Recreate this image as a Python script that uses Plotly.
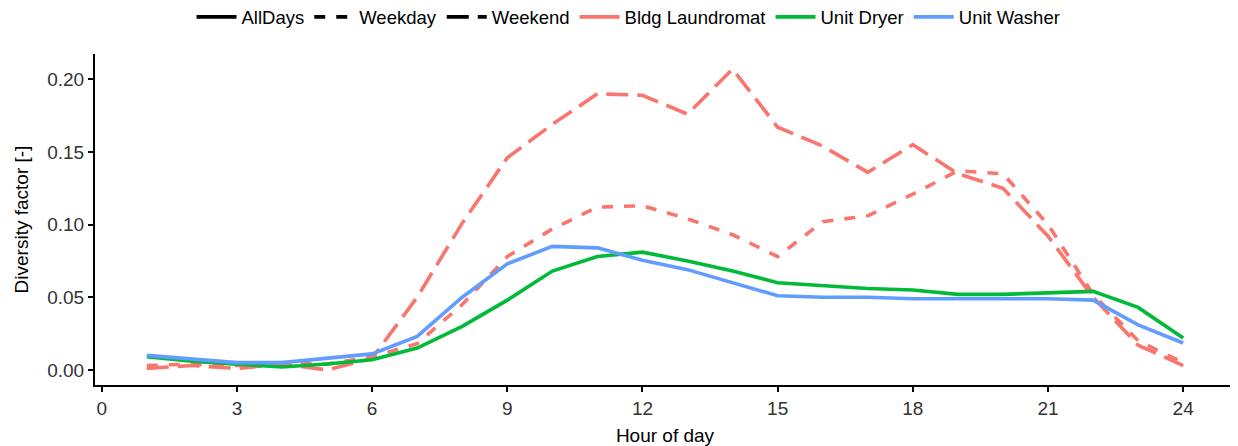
import plotly.graph_objects as go

hours = list(range(1, 25))

washer_all = [0.010, 0.0075, 0.005, 0.005, 0.008, 0.011, 0.023, 0.050, 0.073, 0.085, 0.084, 0.0755,
              0.069, 0.060, 0.051, 0.050, 0.050, 0.049, 0.049, 0.049, 0.049, 0.048, 0.031, 0.0185]
dryer_all = [0.009, 0.006, 0.004, 0.002, 0.004, 0.007, 0.015, 0.030, 0.048, 0.068, 0.078, 0.081,
             0.075, 0.068, 0.060, 0.058, 0.056, 0.055, 0.052, 0.052, 0.053, 0.054, 0.043, 0.022]
laund_weekday = [0.003, 0.004, 0.003, 0.005, 0.004, 0.009, 0.018, 0.045, 0.078, 0.097, 0.112, 0.113,
                 0.104, 0.093, 0.078, 0.102, 0.106, 0.121, 0.137, 0.135, 0.100, 0.052, 0.020, 0.005]
laund_weekend = [0.001, 0.003, 0.001, 0.004, 0.000, 0.008, 0.050, 0.101, 0.146, 0.169, 0.190, 0.189,
                 0.176, 0.207, 0.167, 0.154, 0.136, 0.155, 0.135, 0.125, 0.092, 0.050, 0.017, 0.003]

x_ticks = [0, 3, 6, 9, 12, 15, 18, 21, 24]
y_ticks = [0.00, 0.05, 0.10, 0.15, 0.20]
y_ticklabels = ["0.00", "0.05", "0.10", "0.15", "0.20"]

RED = "#F8766D"
GREEN = "#00BA38"
BLUE = "#619CFF"
LW = 3.6
DASH_WEEKDAY = "11px,11px"
DASH_WEEKEND = "22px,9px"

fig = go.Figure()

# legend keys (linetype)
for name, dash in [("AllDays", "solid"), ("Weekday", DASH_WEEKDAY), ("Weekend", DASH_WEEKEND)]:
    fig.add_trace(go.Scatter(x=[None], y=[None], mode="lines", name=name,
                             line=dict(color="black", width=LW, dash=dash)))
# legend keys (colour)
for name, col in [("Bldg Laundromat", RED), ("Unit Dryer", GREEN), ("Unit Washer", BLUE)]:
    fig.add_trace(go.Scatter(x=[None], y=[None], mode="lines", name=name,
                             line=dict(color=col, width=LW)))

# data
fig.add_trace(go.Scatter(x=hours, y=laund_weekend, mode="lines", showlegend=False,
                         line=dict(color=RED, width=LW, dash=DASH_WEEKEND)))
fig.add_trace(go.Scatter(x=hours, y=laund_weekday, mode="lines", showlegend=False,
                         line=dict(color=RED, width=LW, dash=DASH_WEEKDAY)))
fig.add_trace(go.Scatter(x=hours, y=dryer_all, mode="lines", showlegend=False,
                         line=dict(color=GREEN, width=LW)))
fig.add_trace(go.Scatter(x=hours, y=washer_all, mode="lines", showlegend=False,
                         line=dict(color=BLUE, width=LW)))

fig.update_layout(
    width=1230, height=438,
    paper_bgcolor="white", plot_bgcolor="white",
    font=dict(family="Liberation Sans, Arial, sans-serif", size=19, color="black"),
    margin=dict(l=87, r=3, t=46, b=61, autoexpand=False),
    legend=dict(orientation="h", x=0.468, xanchor="center", y=1.168, yanchor="top",
                xref="paper", yref="paper", font=dict(size=18.5, color="black"),
                itemwidth=40, traceorder="normal", tracegroupgap=0,
                bgcolor="rgba(0,0,0,0)"),
    xaxis=dict(range=[-0.15, 25.15], tickvals=x_ticks, showgrid=False, zeroline=False,
               showline=True, linecolor="black", linewidth=2,
               ticks="outside", ticklen=5, tickwidth=1.5, tickcolor="black",
               tickfont=dict(size=19, color="#333333"),
               title=dict(text="Hour of day", font=dict(size=19), standoff=12)),
    yaxis=dict(range=[-0.0104, 0.2174], tickvals=y_ticks, ticktext=y_ticklabels,
               showgrid=False, zeroline=False,
               showline=True, linecolor="black", linewidth=2,
               ticks="outside", ticklen=5, tickwidth=1.5, tickcolor="black",
               tickfont=dict(size=19, color="#333333"),
               title=dict(text="Diversity factor [-]", font=dict(size=19), standoff=14)),
)

fig.write_html("out.html")
